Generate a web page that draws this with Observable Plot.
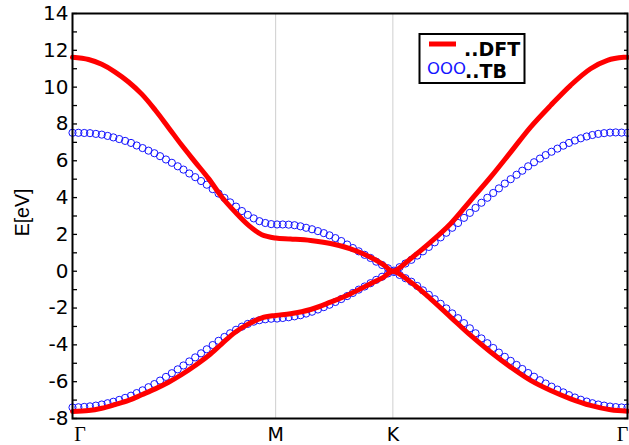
<!DOCTYPE html>
<html><head><meta charset="utf-8">
<script src="https://cdn.jsdelivr.net/npm/d3@7"></script>
<script src="https://cdn.jsdelivr.net/npm/@observablehq/plot@0.6"></script>
<style>
body{margin:0;background:#fff;}
#chart{position:relative;width:629px;height:445px;}
</style></head><body><div id="chart"></div>
<script>
// High-symmetry points along the k-path
const symK = [0, 1.0, 1.577, 2.732];
const symLabels = ["Γ", "M", "K", "Γ"];
const yMajor = [-8, -6, -4, -2, 0, 2, 4, 6, 8, 10, 12, 14];
const yMinor = [-8, -7, -6, -5, -4, -3, -2, -1, 0, 1, 2, 3, 4, 5, 6, 7, 8, 9, 10, 11, 12, 13, 14];
const yLabel = "E[eV]";
const seriesNames = ["..DFT", "..TB"];

// TB (circles): k positions and band energies
const kTB = [0.000,0.029,0.058,0.086,0.115,0.144,0.173,0.201,0.230,0.259,0.288,0.316,0.345,0.374,0.403,0.431,0.460,0.489,0.518,0.546,
0.575,0.604,0.633,0.661,0.690,0.719,0.748,0.776,0.805,0.834,0.863,0.892,0.920,0.949,0.978,1.007,1.035,1.064,1.093,1.122,
1.150,1.179,1.208,1.237,1.265,1.294,1.323,1.352,1.380,1.409,1.438,1.467,1.495,1.524,1.553,1.582,1.610,1.639,1.668,1.697,
1.725,1.754,1.783,1.812,1.840,1.869,1.898,1.927,1.956,1.984,2.013,2.042,2.071,2.099,2.128,2.157,2.186,2.214,2.243,2.272,
2.301,2.329,2.358,2.387,2.416,2.444,2.473,2.502,2.531,2.559,2.588,2.617,2.646,2.674,2.703,2.732];
const tbUpper = [7.52,7.52,7.51,7.50,7.46,7.42,7.35,7.27,7.18,7.08,6.97,6.83,6.69,6.55,6.41,6.25,6.07,5.89,5.70,5.52,
5.31,5.11,4.90,4.70,4.46,4.22,3.98,3.74,3.51,3.27,3.06,2.87,2.72,2.62,2.56,2.54,2.54,2.53,2.50,2.44,
2.36,2.28,2.18,2.07,1.95,1.80,1.64,1.45,1.26,1.08,0.89,0.72,0.52,0.34,0.16,0.03,0.22,0.42,0.62,0.85,
1.08,1.32,1.57,1.84,2.09,2.36,2.62,2.90,3.17,3.44,3.72,3.99,4.25,4.50,4.76,5.00,5.24,5.46,5.70,5.92,
6.12,6.31,6.49,6.66,6.82,6.97,7.10,7.22,7.32,7.40,7.46,7.50,7.53,7.54,7.53,7.52];
const tbLower = [-7.40,-7.39,-7.37,-7.34,-7.30,-7.24,-7.17,-7.09,-6.99,-6.88,-6.76,-6.62,-6.47,-6.30,-6.13,-5.94,-5.74,-5.54,-5.33,-5.12,
-4.90,-4.68,-4.46,-4.24,-4.01,-3.78,-3.57,-3.37,-3.18,-3.01,-2.86,-2.74,-2.66,-2.61,-2.58,-2.57,-2.54,-2.50,-2.45,-2.39,
-2.30,-2.20,-2.08,-1.95,-1.82,-1.67,-1.51,-1.35,-1.18,-1.00,-0.83,-0.65,-0.47,-0.30,-0.12,-0.04,-0.20,-0.38,-0.57,-0.80,
-1.04,-1.28,-1.52,-1.77,-2.02,-2.29,-2.55,-2.82,-3.10,-3.37,-3.65,-3.91,-4.17,-4.42,-4.65,-4.87,-5.09,-5.31,-5.53,-5.73,
-5.92,-6.10,-6.27,-6.43,-6.58,-6.73,-6.86,-6.98,-7.08,-7.17,-7.24,-7.30,-7.35,-7.38,-7.40,-7.40];

// DFT (red lines)
const kDftUpper = [0,0.079,0.144,0.210,0.276,0.341,0.407,0.473,0.538,0.604,0.670,0.735,0.801,0.867,0.932,1.000,1.073,1.172,1.270,1.369,1.467,1.530,1.577,1.664,1.763,1.861,1.960,2.058,2.157,2.255,2.354,2.452,2.550,2.633,2.714,2.732];
const eDftUpper = [11.62,11.50,11.24,10.82,10.28,9.62,8.76,7.80,6.84,5.93,5.03,4.03,3.21,2.49,1.98,1.80,1.75,1.67,1.51,1.22,0.76,0.36,0.00,0.68,1.58,2.58,3.85,5.11,6.47,7.83,9.01,10.10,11.00,11.46,11.62,11.62];
const kDftLower = [0,0.079,0.144,0.210,0.276,0.341,0.407,0.473,0.538,0.604,0.670,0.735,0.801,0.867,0.932,1.000,1.073,1.172,1.270,1.369,1.467,1.530,1.577,1.664,1.763,1.861,1.960,2.058,2.157,2.255,2.354,2.452,2.550,2.649,2.732];
const eDftLower = [-7.62,-7.57,-7.44,-7.24,-7.02,-6.71,-6.39,-6.03,-5.61,-5.12,-4.58,-3.94,-3.31,-2.86,-2.53,-2.40,-2.31,-2.08,-1.68,-1.22,-0.68,-0.33,0.00,-0.59,-1.50,-2.49,-3.49,-4.39,-5.21,-5.93,-6.48,-6.93,-7.29,-7.53,-7.60];

const tbData = kTB.flatMap((k, i) => [{k, E: tbUpper[i], band: "up"}, {k, E: tbLower[i], band: "lo"}]);
const dftUp = kDftUpper.map((k, i) => ({k, E: eDftUpper[i]}));
const dftLo = kDftLower.map((k, i) => ({k, E: eDftLower[i]}));
const xLab = symK.map((k, i) => ({k, label: symLabels[i], i}));

const SANS = "'DejaVu Sans', 'Liberation Sans', Arial, sans-serif";
const SERIF = "'Liberation Serif', 'DejaVu Serif', serif";

const plot = Plot.plot({
  width: 629, height: 445,
  marginLeft: 72, marginRight: 2, marginTop: 13, marginBottom: 27,
  style: {fontFamily: SANS, fontSize: "20px", color: "black", background: "white", overflow: "visible"},
  x: {domain: [symK[0], symK[symK.length - 1]], axis: null},
  y: {domain: [yMinor[0], yMinor[yMinor.length - 1]], axis: null, label: null},
  marks: [
    Plot.ruleX(symK.slice(1, 3), {stroke: "#cfcfcf", strokeWidth: 1}),
    Plot.dot(tbData, {x: "k", y: "E", r: 3.6, stroke: "#1414ff", strokeWidth: 1, fill: "none"}),
    Plot.line(dftUp, {x: "k", y: "E", stroke: "#ff0000", strokeWidth: 5, curve: "catmull-rom"}),
    Plot.line(dftLo, {x: "k", y: "E", stroke: "#ff0000", strokeWidth: 5, curve: "catmull-rom"}),
    Plot.axisY(yMinor, {anchor: "left", tickSize: -5, fill: "none", label: null, stroke: "black", strokeWidth: 1.3}),
    Plot.axisY(yMinor, {anchor: "right", tickSize: -4, fill: "none", label: null, stroke: "black", strokeWidth: 1.3}),
    Plot.axisY(yMajor, {anchor: "left", tickSize: 0, tickPadding: 4, tickFormat: d => String(d), label: null, fontSize: 20, fontFamily: SANS}),
    Plot.text(xLab.filter(d => d.label !== "Γ"), {x: "k", text: "label", frameAnchor: "bottom", lineAnchor: "bottom", dy: 22, fontSize: 19, fontFamily: SANS}),
    Plot.text(xLab.filter(d => d.label === "Γ" && d.i === 0), {x: "k", text: "label", frameAnchor: "bottom", lineAnchor: "bottom", dy: 22, dx: 7.5, fontSize: 20, fontFamily: SERIF}),
    Plot.text(xLab.filter(d => d.label === "Γ" && d.i > 0), {x: "k", text: "label", frameAnchor: "bottom", lineAnchor: "bottom", dy: 22, dx: -5, fontSize: 20, fontFamily: SERIF}),
    Plot.frame({stroke: "black", strokeWidth: 2})
  ]
});
document.getElementById("chart").appendChild(plot);

const svg = d3.select(plot);
// y-axis label
svg.append("text")
  .attr("transform", "translate(29,212.5) rotate(-90)")
  .attr("text-anchor", "middle")
  .attr("font-family", "'Liberation Sans', Arial, sans-serif")
  .attr("font-size", 19.5)
  .attr("fill", "black")
  .text(yLabel);

// legend
const lg = svg.append("g").attr("text-anchor", "start");
lg.append("rect").attr("x", 419.5).attr("y", 34).attr("width", 105).attr("height", 49)
  .attr("fill", "white").attr("stroke", "black").attr("stroke-width", 2);
lg.append("line").attr("x1", 429).attr("x2", 456).attr("y1", 44).attr("y2", 44)
  .attr("stroke", "#ff0000").attr("stroke-width", 5);
lg.append("text").attr("x", 464).attr("y", 56).attr("text-anchor", "start").attr("font-family", SANS).attr("font-weight", "bold")
  .attr("font-size", 19).attr("fill", "black").text(seriesNames[0]);
lg.append("text").attr("x", 427).attr("y", 73.5).attr("text-anchor", "start").attr("font-family", SANS)
  .attr("font-size", 16.5).attr("fill", "#1414ff").text("OOO");
lg.append("text").attr("x", 465).attr("y", 77.5).attr("text-anchor", "start").attr("font-family", SANS).attr("font-weight", "bold")
  .attr("font-size", 19).attr("fill", "black").text(seriesNames[1]);
</script></body></html>
